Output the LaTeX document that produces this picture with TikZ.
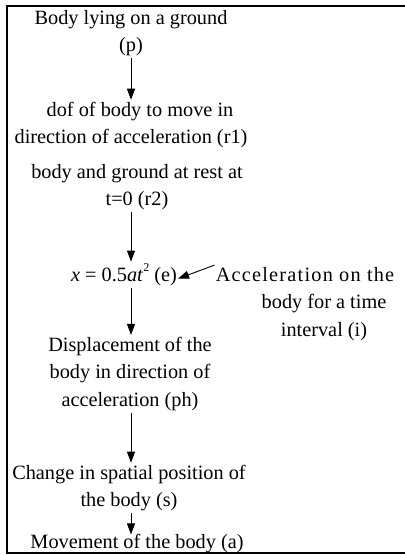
\documentclass[tikz,border=0pt]{standalone}
\usepackage{fontspec}
\setmainfont{Liberation Serif}
\usetikzlibrary{arrows.meta,calc}
\begin{document}
\begin{tikzpicture}[x=1pt,y=-1pt,
  txt/.style={align=center, inner sep=0pt, font=\fontsize{20.3}{27.5}\selectfont},
  arr/.style={-{Triangle[width=8pt,length=11pt]}, line width=0.9pt, shorten <=1.5pt, shorten >=2pt},
  frame/.style={line width=2pt}]
\useasboundingbox (0,0) rectangle (404,556);
\draw[frame] (406,6) -- (7,6) -- (7,553) -- (406,553);
\coordinate (ax) at (131,0);
\node[txt] (p) at (131,33) {Body lying on a ground\\(p)};
\node[txt] (r1) at (131,125) {\hspace*{18pt}dof of body to move in\\direction of acceleration (r1)};
\node[txt] (r2) at (137,187) {body and ground at rest at\\t=0 (r2)};
\node[txt] (e) at (124,275) {\textit{x} = 0.5\textit{at}\raisebox{0.5em}{\fontsize{12}{12}\selectfont 2} (e)};
\node[txt] (i) at (324,304) {\addfontfeature{LetterSpace=6}Acceleration on the\hspace*{38pt}\\body for a time\\interval (i)};
\node[txt] (ph) at (130,374) {Displacement of the\\body in direction of\\acceleration (ph)};
\node[txt] (s) at (129,488) {Change in spatial position of\\the body (s)};
\node[txt] (a) at (137,544) {Movement of the body (a)};
\draw[arr] (p.south -| ax) -- (r1.north -| ax);
\draw[arr] (r2.south -| ax) -- (e.north -| ax);
\draw[arr] (e.south -| ax) -- (ph.north -| ax);
\draw[arr] (ph.south -| ax) -- (s.north -| ax);
\draw[arr, shorten >=0pt] (s.south -| ax) -- (a.north -| ax);
\draw[arr, shorten <=0pt, shorten >=1pt] ([xshift=-1pt,yshift=2pt]i.north west) -- ([yshift=-4pt]e.east);
\end{tikzpicture}
\end{document}
